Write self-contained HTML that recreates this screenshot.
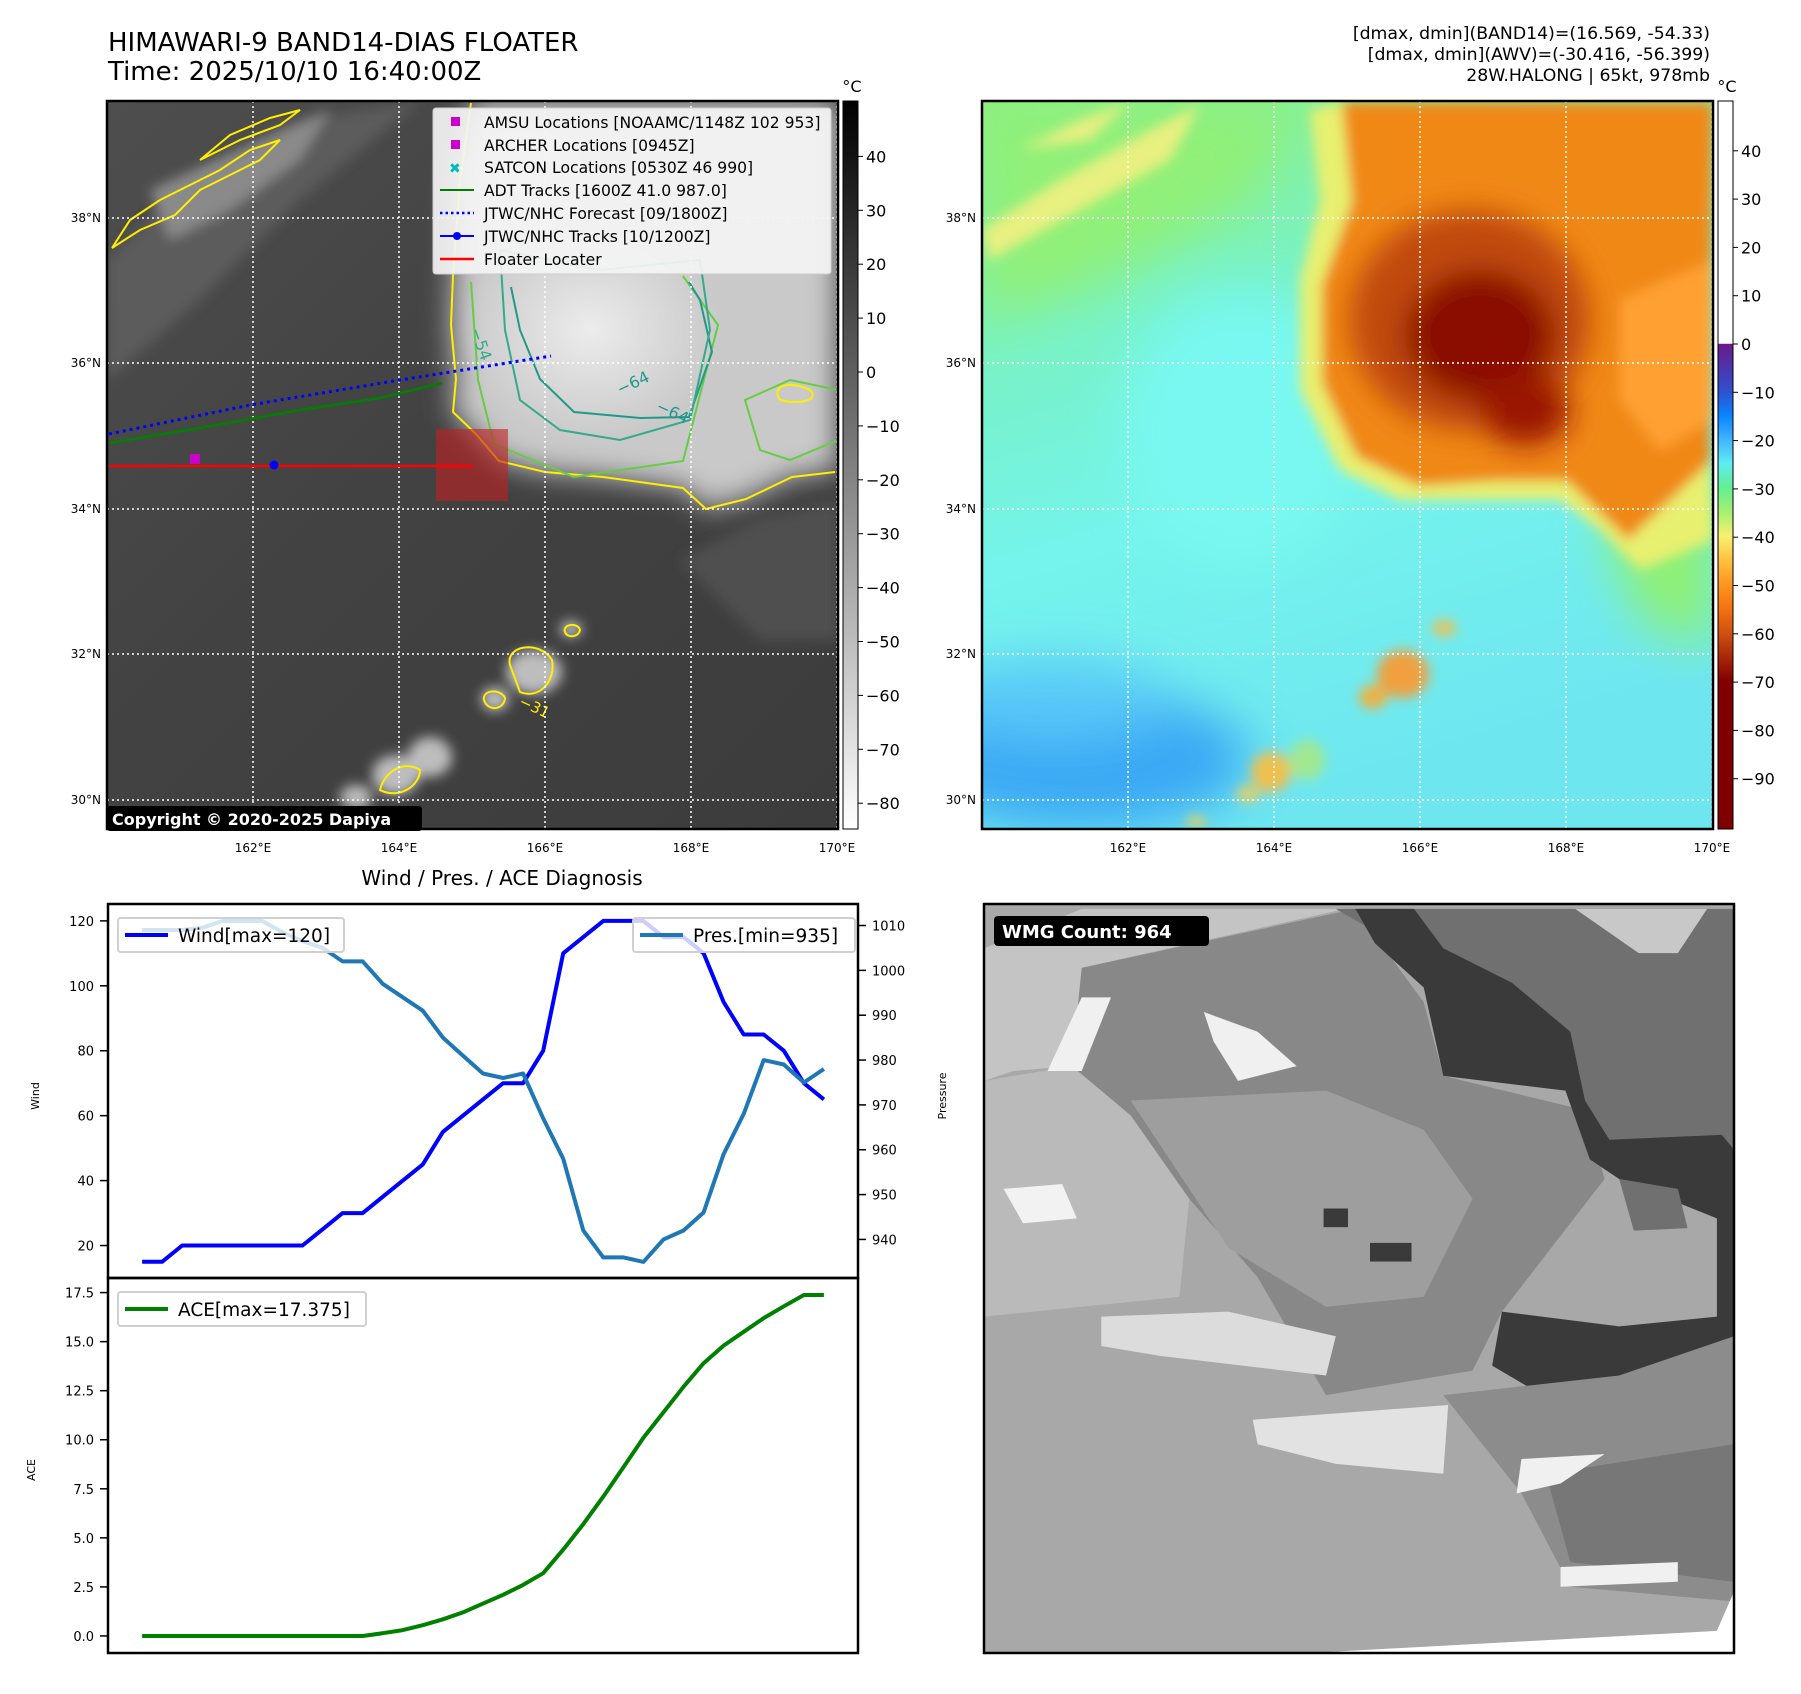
<!DOCTYPE html>
<html><head><meta charset="utf-8">
<style>
html,body{margin:0;padding:0;background:#fff;}
body{width:1801px;height:1690px;position:relative;overflow:hidden;font-family:"DejaVu Sans","Liberation Sans",sans-serif;}
svg text{font-family:"DejaVu Sans","Liberation Sans",sans-serif;}
</style></head>
<body>
<svg id="root" width="1801" height="1690" viewBox="0 0 1801 1690" xmlns="http://www.w3.org/2000/svg">
<defs>
  <filter id="blur6" x="-20%" y="-20%" width="140%" height="140%"><feGaussianBlur stdDeviation="6"/></filter>
  <filter id="blur14" x="-30%" y="-30%" width="160%" height="160%"><feGaussianBlur stdDeviation="14"/></filter>
  <filter id="blur25" x="-30%" y="-30%" width="160%" height="160%"><feGaussianBlur stdDeviation="25"/></filter>
  <clipPath id="clip1"><rect x="107" y="101" width="731" height="728"/></clipPath>
  <clipPath id="clip2"><rect x="982" y="101" width="731" height="728"/></clipPath>
  <linearGradient id="gray1" x1="0" y1="0" x2="1" y2="1">
    <stop offset="0" stop-color="#4e4e4e"/><stop offset="0.45" stop-color="#424242"/><stop offset="1" stop-color="#3c3c3c"/>
  </linearGradient>
  <linearGradient id="cb1" x1="0" y1="0" x2="0" y2="1">
    <stop offset="0" stop-color="#000"/><stop offset="1" stop-color="#fff"/>
  </linearGradient>
  <linearGradient id="cb2" x1="0" y1="0" x2="0" y2="1">
    <stop offset="0" stop-color="#fff"/><stop offset="0.333" stop-color="#fff"/>
    <stop offset="0.334" stop-color="#6a1a8a"/><stop offset="0.399" stop-color="#3050d0"/>
    <stop offset="0.432" stop-color="#0a84ff"/><stop offset="0.465" stop-color="#40b4ff"/>
    <stop offset="0.498" stop-color="#60ecf0"/><stop offset="0.532" stop-color="#62f090"/>
    <stop offset="0.565" stop-color="#a8f070"/><stop offset="0.598" stop-color="#f8f070"/>
    <stop offset="0.631" stop-color="#ffc040"/><stop offset="0.665" stop-color="#ff9420"/>
    <stop offset="0.70" stop-color="#f07010"/><stop offset="0.731" stop-color="#d05010"/>
    <stop offset="0.797" stop-color="#800000"/><stop offset="1" stop-color="#800000"/>
  </linearGradient>
  <linearGradient id="awvBase" x1="0" y1="0" x2="0.3" y2="1">
    <stop offset="0" stop-color="#8cf080"/><stop offset="0.35" stop-color="#78f2c8"/>
    <stop offset="0.6" stop-color="#74f4ec"/><stop offset="1" stop-color="#6ee6f0"/>
  </linearGradient>
  <radialGradient id="cloudGlow" cx="0.5" cy="0.5" r="0.5">
    <stop offset="0" stop-color="#ececec"/><stop offset="1" stop-color="#ececec" stop-opacity="0"/>
  </radialGradient>
</defs>

<!-- Titles -->
<text x="108" y="51" font-size="26" fill="#000">HIMAWARI-9 BAND14-DIAS FLOATER</text>
<text x="108" y="80" font-size="26" fill="#000">Time: 2025/10/10 16:40:00Z</text>
<g font-size="17.3" fill="#000" text-anchor="end">
  <text x="1710" y="39">[dmax, dmin](BAND14)=(16.569, -54.33)</text>
  <text x="1710" y="60">[dmax, dmin](AWV)=(-30.416, -56.399)</text>
  <text x="1710" y="81">28W.HALONG | 65kt, 978mb</text>
</g>

<!-- Map 1: IR grayscale -->
<g clip-path="url(#clip1)">
  <rect x="107" y="101" width="731" height="728" fill="url(#gray1)"/>
  <g filter="url(#blur6)">
    <polygon fill="#5c5c5c" points="107,260 200,170 300,120 420,101 300,200 200,300 107,380"/>
    <polygon fill="#8a8a8a" points="150,190 260,140 330,110 300,160 230,210 170,240"/>
    <polygon fill="#505050" points="680,560 760,520 838,500 838,640 760,640"/>
  </g>
  <g filter="url(#blur14)">
    <polygon fill="#c9c9c9" points="471,101 838,101 838,470 792,477 746,499 706,509 683,488 603,477 545,472 499,461 476,434 453,412 456,379 451,325 453,276 458,200"/>
  </g>
  <ellipse cx="590" cy="330" rx="130" ry="110" fill="url(#cloudGlow)"/>
  <ellipse cx="520" cy="180" rx="90" ry="70" fill="url(#cloudGlow)" opacity="0.7"/>
  <g filter="url(#blur6)" fill="#bdbdbd">
    <ellipse cx="534" cy="672" rx="28" ry="22"/><ellipse cx="495" cy="699" rx="14" ry="12"/>
    <ellipse cx="571" cy="629" rx="11" ry="8"/><ellipse cx="430" cy="757" rx="22" ry="20"/>
    <ellipse cx="396" cy="775" rx="24" ry="20"/><ellipse cx="356" cy="797" rx="16" ry="12"/>
  </g>
  <g fill="none" stroke-width="2">
    <path stroke="#ffee00" d="M471,103 L460,180 L453,276 L451,325 L456,379 L453,412 L476,434 L499,461 L545,472 L603,477 L683,488 L706,509 L746,499 L792,477 L835,472"/>
    <path stroke="#ffee00" d="M112,248 L140,230 L175,215 L200,190 L230,175 L260,160 L280,140 L250,150 L220,170 L190,185 L160,200 L130,220 Z"/>
    <path stroke="#ffee00" d="M200,160 L240,140 L280,125 L300,110 L270,118 L230,135 Z"/>
    <path stroke="#ffee00" d="M510,665 C505,645 540,640 552,660 C556,680 540,700 520,692 Z"/>
    <path stroke="#ffee00" d="M484,700 C482,690 500,688 505,698 C504,710 488,712 484,700 Z"/>
    <path stroke="#ffee00" d="M565,632 C562,624 578,622 580,630 C578,638 567,638 565,632 Z"/>
    <path stroke="#ffee00" d="M380,790 C385,770 405,760 420,770 C420,785 400,800 380,790 Z"/>
    <path stroke="#ffee00" d="M810,390 C790,380 770,385 780,400 C800,405 820,400 810,390 Z"/>
    <path stroke="#66cc44" d="M471,282 L478,380 L494,444 L574,477 L683,461 L718,325 L683,276"/>
    <path stroke="#66cc44" d="M745,400 L790,380 L838,390 L838,440 L790,460 L760,450 Z"/>
    <path stroke="#229988" d="M511,287 L520,330 L540,379 L574,412 L640,418 L689,417 L712,352 L700,300 L689,282"/>
    <path stroke="#33aa88" d="M500,250 L600,270 L700,260 L710,330 L690,420 L620,440 L560,430 L520,400 L505,330 Z"/>
  </g>
  <text x="470" y="330" font-size="16" fill="#33aa88" transform="rotate(70 470 330)">−54</text>
  <text x="620" y="395" font-size="16" fill="#229988" transform="rotate(-25 620 395)">−64</text>
  <text x="655" y="410" font-size="16" fill="#229988" transform="rotate(25 655 410)">−64</text>
  <text x="518" y="705" font-size="15" fill="#ffee00" transform="rotate(25 518 705)">−31</text>
  <g stroke="#fff" stroke-width="1.5" stroke-dasharray="2,3">
    <line x1="253" y1="101" x2="253" y2="829"/><line x1="399" y1="101" x2="399" y2="829"/>
    <line x1="545" y1="101" x2="545" y2="829"/><line x1="691" y1="101" x2="691" y2="829"/>
    <line x1="837" y1="101" x2="837" y2="829"/>
    <line x1="107" y1="218" x2="838" y2="218"/><line x1="107" y1="363" x2="838" y2="363"/>
    <line x1="107" y1="509" x2="838" y2="509"/><line x1="107" y1="654" x2="838" y2="654"/>
    <line x1="107" y1="800" x2="838" y2="800"/>
  </g>
  <polyline points="109,443 200,428 300,410 380,398 442,383" fill="none" stroke="#008000" stroke-width="2.5"/>
  <polyline points="109,434 250,405 400,380 551,356" fill="none" stroke="#0000ff" stroke-width="3" stroke-dasharray="3,4"/>
  <rect x="436" y="429" width="72" height="72" fill="#c02020" opacity="0.6"/>
  <line x1="109" y1="466" x2="473" y2="466" stroke="#ff0000" stroke-width="2.5"/>
  <rect x="190" y="454" width="10" height="10" fill="#cc00cc"/>
  <circle cx="274" cy="465" r="4.5" fill="#0000ff"/>
</g>
<rect x="107" y="101" width="731" height="728" fill="none" stroke="#000" stroke-width="2.5"/>

<g>
  <rect x="433" y="108" width="398" height="166" rx="3" fill="#f4f4f4" fill-opacity="0.92" stroke="#ccc"/>
  <g font-size="15.6" fill="#000">
    <rect x="451" y="117" width="9" height="9" fill="#cc00cc"/><text x="484" y="128">AMSU Locations [NOAAMC/1148Z 102 953]</text>
    <rect x="451" y="140" width="9" height="9" fill="#cc00cc"/><text x="484" y="151">ARCHER Locations [0945Z]</text>
    <text x="449" y="173" fill="#00bbbb" font-size="14" font-weight="bold">✖</text><text x="484" y="173">SATCON Locations [0530Z 46 990]</text>
    <line x1="440" y1="190" x2="474" y2="190" stroke="#008000" stroke-width="2"/><text x="484" y="196">ADT Tracks [1600Z 41.0 987.0]</text>
    <line x1="440" y1="213" x2="474" y2="213" stroke="#0000ff" stroke-width="2.5" stroke-dasharray="2.5,3"/><text x="484" y="219">JTWC/NHC Forecast [09/1800Z]</text>
    <line x1="440" y1="236" x2="474" y2="236" stroke="#0000ff" stroke-width="2"/><circle cx="457" cy="236" r="4" fill="#0000ff"/><text x="484" y="242">JTWC/NHC Tracks [10/1200Z]</text>
    <line x1="440" y1="259" x2="474" y2="259" stroke="#ff0000" stroke-width="2.5"/><text x="484" y="265">Floater Locater</text>
  </g>
</g>
<g>
  <rect x="107" y="806" width="315" height="25" rx="3" fill="#000"/>
  <text x="112" y="825" font-size="16" font-weight="bold" fill="#fff">Copyright © 2020-2025 Dapiya</text>
</g>

<g font-size="12" fill="#000" text-anchor="end">
  <text x="101" y="222">38°N</text><text x="101" y="367">36°N</text><text x="101" y="513">34°N</text><text x="101" y="658">32°N</text><text x="101" y="804">30°N</text>
</g>
<g font-size="12" fill="#000" text-anchor="middle">
  <text x="253" y="852">162°E</text><text x="399" y="852">164°E</text><text x="545" y="852">166°E</text><text x="691" y="852">168°E</text><text x="837" y="852">170°E</text>
</g>

<g>
  <rect x="843" y="101" width="15" height="728" fill="url(#cb1)" stroke="#000" stroke-width="1"/>
  <text x="852" y="92" font-size="16" text-anchor="middle">°C</text>
  <g id="cb1ticks" font-size="16" fill="#000"></g>
</g>

<g clip-path="url(#clip2)">
  <rect x="982" y="101" width="731" height="728" fill="url(#awvBase)"/>
  <g filter="url(#blur25)">
    <ellipse cx="1080" cy="760" rx="170" ry="70" fill="#3aa8f4"/>
    <ellipse cx="1050" cy="700" rx="120" ry="40" fill="#58c8f8"/>
    <ellipse cx="1240" cy="430" rx="120" ry="140" fill="#78f8f0"/>
    <polygon fill="#90f078" points="982,101 1300,101 1250,200 1100,280 982,320"/>
    <polygon fill="#90f070" points="1600,520 1713,460 1713,650 1640,620"/>
  </g>
  <g filter="url(#blur6)">
    <polygon fill="#e8f080" points="982,230 1060,180 1150,130 1200,105 1170,160 1080,210 990,260"/>
    <polygon fill="#e8f080" points="1020,150 1080,120 1130,102 1090,140"/>
    <polygon fill="#e8f070" points="1310,110 1342,102 1352,202 1322,286 1322,383 1357,457 1419,486 1495,481 1567,481 1628,540 1664,506 1710,462 1713,540 1640,570 1600,530 1560,500 1480,500 1400,500 1340,470 1300,390 1300,280 1320,200"/>
    <polygon fill="#f08818" points="1342,102 1713,102 1710,462 1664,506 1628,540 1567,481 1495,481 1419,486 1357,457 1322,383 1322,286 1352,202"/>
    <polygon fill="#ffa030" points="1620,300 1713,260 1713,420 1660,450 1620,400"/>
  </g>
  <g filter="url(#blur14)">
    <ellipse cx="1470" cy="320" rx="120" ry="110" fill="#c04808"/>
    <ellipse cx="1480" cy="335" rx="75" ry="65" fill="#8a0a00"/>
    <ellipse cx="1525" cy="410" rx="45" ry="35" fill="#9a1800"/>
  </g>
  <g filter="url(#blur6)">
    <ellipse cx="1403" cy="674" rx="26" ry="24" fill="#f0a040"/>
    <ellipse cx="1373" cy="697" rx="14" ry="12" fill="#f0b040"/>
    <ellipse cx="1444" cy="628" rx="12" ry="8" fill="#f0c050"/>
    <ellipse cx="1271" cy="772" rx="20" ry="20" fill="#f0c050"/>
    <ellipse cx="1307" cy="760" rx="18" ry="20" fill="#a0e890"/>
    <ellipse cx="1248" cy="794" rx="12" ry="8" fill="#e8d060"/>
    <ellipse cx="1196" cy="822" rx="10" ry="6" fill="#e8d060"/>
  </g>
  <g stroke="#fff" stroke-width="1.5" stroke-dasharray="2,3">
    <line x1="1128" y1="101" x2="1128" y2="829"/><line x1="1274" y1="101" x2="1274" y2="829"/>
    <line x1="1420" y1="101" x2="1420" y2="829"/><line x1="1566" y1="101" x2="1566" y2="829"/>
    <line x1="1712" y1="101" x2="1712" y2="829"/>
    <line x1="982" y1="218" x2="1713" y2="218"/><line x1="982" y1="363" x2="1713" y2="363"/>
    <line x1="982" y1="509" x2="1713" y2="509"/><line x1="982" y1="654" x2="1713" y2="654"/>
    <line x1="982" y1="800" x2="1713" y2="800"/>
  </g>
</g>
<rect x="982" y="101" width="731" height="728" fill="none" stroke="#000" stroke-width="2.5"/>
<g font-size="12" fill="#000" text-anchor="end">
  <text x="976" y="222">38°N</text><text x="976" y="367">36°N</text><text x="976" y="513">34°N</text><text x="976" y="658">32°N</text><text x="976" y="804">30°N</text>
</g>
<g font-size="12" fill="#000" text-anchor="middle">
  <text x="1128" y="852">162°E</text><text x="1274" y="852">164°E</text><text x="1420" y="852">166°E</text><text x="1566" y="852">168°E</text><text x="1712" y="852">170°E</text>
</g>
<g>
  <rect x="1718" y="101" width="15" height="728" fill="url(#cb2)" stroke="#000" stroke-width="1"/>
  <text x="1727" y="92" font-size="16" text-anchor="middle">°C</text>
  <g id="cb2ticks" font-size="16" fill="#000"></g>
</g>

<text x="502" y="885" font-size="20" text-anchor="middle">Wind / Pres. / ACE Diagnosis</text>
<g id="chart"></g>

<g>
  <svg x="984" y="904" width="750" height="749" viewBox="0 0 1535 1525" preserveAspectRatio="none">
    <rect x="0" y="0" width="1535" height="1525" fill="#a8a8a8"/>
    <polygon fill="#c4c4c4" points="0,90 200,10 740,10 200,130 180,330 60,340 0,360"/>
    <polygon fill="#bababa" points="0,360 180,330 300,430 420,600 400,800 200,820 0,840"/>
    <polygon fill="#888" points="200,130 760,10 900,200 940,350 1230,420 1270,560 1060,830 1000,950 700,1000 560,760 420,600 300,430 180,330"/>
    <polygon fill="#9e9e9e" points="300,400 700,380 900,460 1000,600 900,800 700,820 500,700"/>
    <polygon fill="#707070" points="720,10 1535,10 1535,500 1260,480 1200,380 1100,230 920,160 860,90"/>
    <polygon fill="#c8c8c8" points="1210,10 1480,10 1420,100 1340,100"/>
    <polygon fill="#3a3a3a" points="760,10 880,10 940,90 1080,160 1200,260 1230,400 1280,480 1510,470 1535,500 1535,900 1480,920 1160,1010 1040,940 1060,830 1300,860 1500,840 1500,640 1300,560 1240,520 1190,380 940,350 900,170 800,80"/>
    <polygon fill="#707070" points="1300,560 1420,580 1440,660 1330,665"/>
    <polygon fill="#8c8c8c" points="940,1000 1300,960 1535,880 1535,1420 1200,1390 1100,1200"/>
    <polygon fill="#777" points="1150,1160 1535,1100 1535,1380 1200,1340"/>
    <polygon fill="#e2e2e2" points="550,1050 950,1020 940,1160 720,1140 560,1100"/>
    <polygon fill="#dcdcdc" points="240,840 500,830 720,880 700,960 360,920 240,900"/>
    <polygon fill="#f2f2f2" points="40,580 160,570 190,640 80,650"/>
    <polygon fill="#f0f0f0" points="450,220 560,260 640,330 520,360 470,280"/>
    <polygon fill="#f0f0f0" points="200,190 260,190 200,340 130,340"/>
    <polygon fill="#f0f0f0" points="1100,1130 1270,1120 1180,1180 1090,1200"/>
    <polygon fill="#f0f0f0" points="1180,1350 1420,1340 1420,1380 1180,1390"/>
    <rect x="695" y="620" width="50" height="38" fill="#3a3a3a"/>
    <rect x="790" y="690" width="85" height="38" fill="#3a3a3a"/>
    <polygon fill="#fff" points="480,1535 1500,1480 1535,1400 1535,1535"/>
  </svg>
  <rect x="984" y="904" width="750" height="749" fill="none" stroke="#000" stroke-width="2.5"/>
  <rect x="994" y="916" width="215" height="30" rx="4" fill="#000"/>
  <text x="1002" y="938" font-size="18" font-weight="bold" fill="#fff">WMG Count: 964</text>
</g>

<script>
const windValues = [15,15,20,20,20,20,20,20,20,25,30,30,35,40,45,55,60,65,70,70,80,110,115,120,120,120,115,115,110,95,85,85,80,70,65];
const presValues = [1009,1009,1009,1009.5,1011,1011,1011,1008.5,1006.5,1005,1002,1002,997,994,991,985,981,977,976,977,967,958,942,936,936,935,940,942,946,959,968,980,979,975,978];
const aceValues = [0,0,0,0,0,0,0,0,0,0,0,0,0.14,0.3,0.55,0.85,1.2,1.65,2.1,2.6,3.2,4.4,5.7,7.1,8.6,10.1,11.4,12.7,13.9,14.8,15.5,16.2,16.8,17.375,17.375];
const windTicks = [20,40,60,80,100,120];
const presTicks = [940,950,960,970,980,990,1000,1010];
const aceTicks = [0,2.5,5,7.5,10,12.5,15,17.5];
const cb1Ticks = [40,30,20,10,0,-10,-20,-30,-40,-50,-60,-70,-80];
const cb2Ticks = [40,30,20,10,0,-10,-20,-30,-40,-50,-60,-70,-80,-90];

const NS = 'http://www.w3.org/2000/svg';
function mk(tag, attrs, parent){ const e=document.createElementNS(NS,tag); for(const k in attrs) e.setAttribute(k,attrs[k]); parent.appendChild(e); return e; }

const cb1 = v => 372 - v*5.39;
const cb2 = v => 344 - v*4.83;
const g1 = document.getElementById('cb1ticks');
cb1Ticks.forEach(v=>{
  const t = mk('line',{x1:858,x2:863,y1:cb1(v),y2:cb1(v),stroke:'#000'},g1);
  
  
  const l = mk('text',{x:866,y:cb1(v)+6},g1); l.textContent = v<0 ? '\u2212'+(-v) : String(v);
  
  
});
const g2 = document.getElementById('cb2ticks');
cb2Ticks.forEach(v=>{
  const t = mk('line',{x1:1733,x2:1738,y1:cb2(v),y2:cb2(v),stroke:'#000'},g2);
  
  
  const l = mk('text',{x:1741,y:cb2(v)+6},g2); l.textContent = v<0 ? '\u2212'+(-v) : String(v);
  
  
});

const L=108, R=858, T1=904, B1=1278, T2=1278, B2=1653;
const n = windValues.length;
const xMin = -0.05*(n-1), xMax = (n-1)*1.05;
const xs = i => L + (i - xMin)/(xMax - xMin)*(R-L);
const wMin=10, wMax=125.2;
const yW = v => B1 - (v-wMin)/(wMax-wMin)*(B1-T1);
const pMin=931.4, pMax=1014.8;
const yP = v => B1 - (v-pMin)/(pMax-pMin)*(B1-T1);
const aMax = Math.max(...aceValues), aMin = 0;
const aPad = (aMax-aMin)*0.05;
const yA = v => B2 - (v-(aMin-aPad))/((aMax+aPad)-(aMin-aPad))*(B2-T2);

const chart = document.getElementById('chart');
function path(vals, yf, color, name){
  const d = vals.map((v,i)=>(i?'L':'M')+xs(i).toFixed(1)+','+yf(v).toFixed(1)).join(' ');
  const p = mk('path',{d:d,fill:'none',stroke:color,'stroke-width':4,'stroke-linejoin':'round'},chart);
  
  
}
windTicks.forEach(v=>{
  const y=yW(v);
  const t = mk('line',{x1:L-8,x2:L,y1:y,y2:y,stroke:'#000','stroke-width':1.5},chart);
  
  
  const l = mk('text',{x:L-14,y:y+5,'font-size':13,'text-anchor':'end'},chart); l.textContent=v;
  
  
});
presTicks.forEach(v=>{
  const y=yP(v);
  const t = mk('line',{x1:R,x2:R+8,y1:y,y2:y,stroke:'#000','stroke-width':1.5},chart);
  
  
  const l = mk('text',{x:R+14,y:y+5,'font-size':13},chart); l.textContent=v;
  
  
});
aceTicks.forEach(v=>{
  const y=yA(v);
  const t = mk('line',{x1:L-8,x2:L,y1:y,y2:y,stroke:'#000','stroke-width':1.5},chart);
  
  
  const l = mk('text',{x:L-14,y:y+5,'font-size':13,'text-anchor':'end'},chart); l.textContent=v.toFixed(1);
  
  
});
path(windValues, yW, '#0000ff', 'wind-line');
path(presValues, yP, '#1f77b4', 'pressure-line');
path(aceValues, yA, '#008000', 'ace-line');

const f1 = mk('rect',{x:L,y:T1,width:R-L,height:B1-T1,fill:'none',stroke:'#000','stroke-width':2.5},chart);


const f2 = mk('rect',{x:L,y:T2,width:R-L,height:B2-T2,fill:'none',stroke:'#000','stroke-width':2.5},chart);



function vtext(x,y,s,name){
  const t = mk('text',{x:x,y:y,'font-size':11,'text-anchor':'middle',transform:'rotate(-90 '+x+' '+y+')'},chart); t.textContent=s;
  
  
}
vtext(39,1096,'Wind','wind-axis-title');
vtext(946,1096,'Pressure','pressure-axis-title');
vtext(35,1470,'ACE','ace-axis-title');

function legend(x,y,w,color,label,name){
  const g = mk('g',{},chart);
  
  
  mk('rect',{x:x,y:y,width:w,height:34,rx:3,fill:'#fff','fill-opacity':0.8,stroke:'#d0d0d0','stroke-width':2},g);
  mk('line',{x1:x+7,x2:x+50,y1:y+17,y2:y+17,stroke:color,'stroke-width':4},g);
  const t = mk('text',{x:x+60,y:y+24,'font-size':18.5},g); t.textContent=label;
}
legend(118,918,226,'#0000ff','Wind[max=120]','wind-legend');
legend(633,918,222,'#1f77b4','Pres.[min=935]','pressure-legend');
legend(118,1292,248,'#008000','ACE[max=17.375]','ace-legend');
</script>
</svg>
</body></html>
